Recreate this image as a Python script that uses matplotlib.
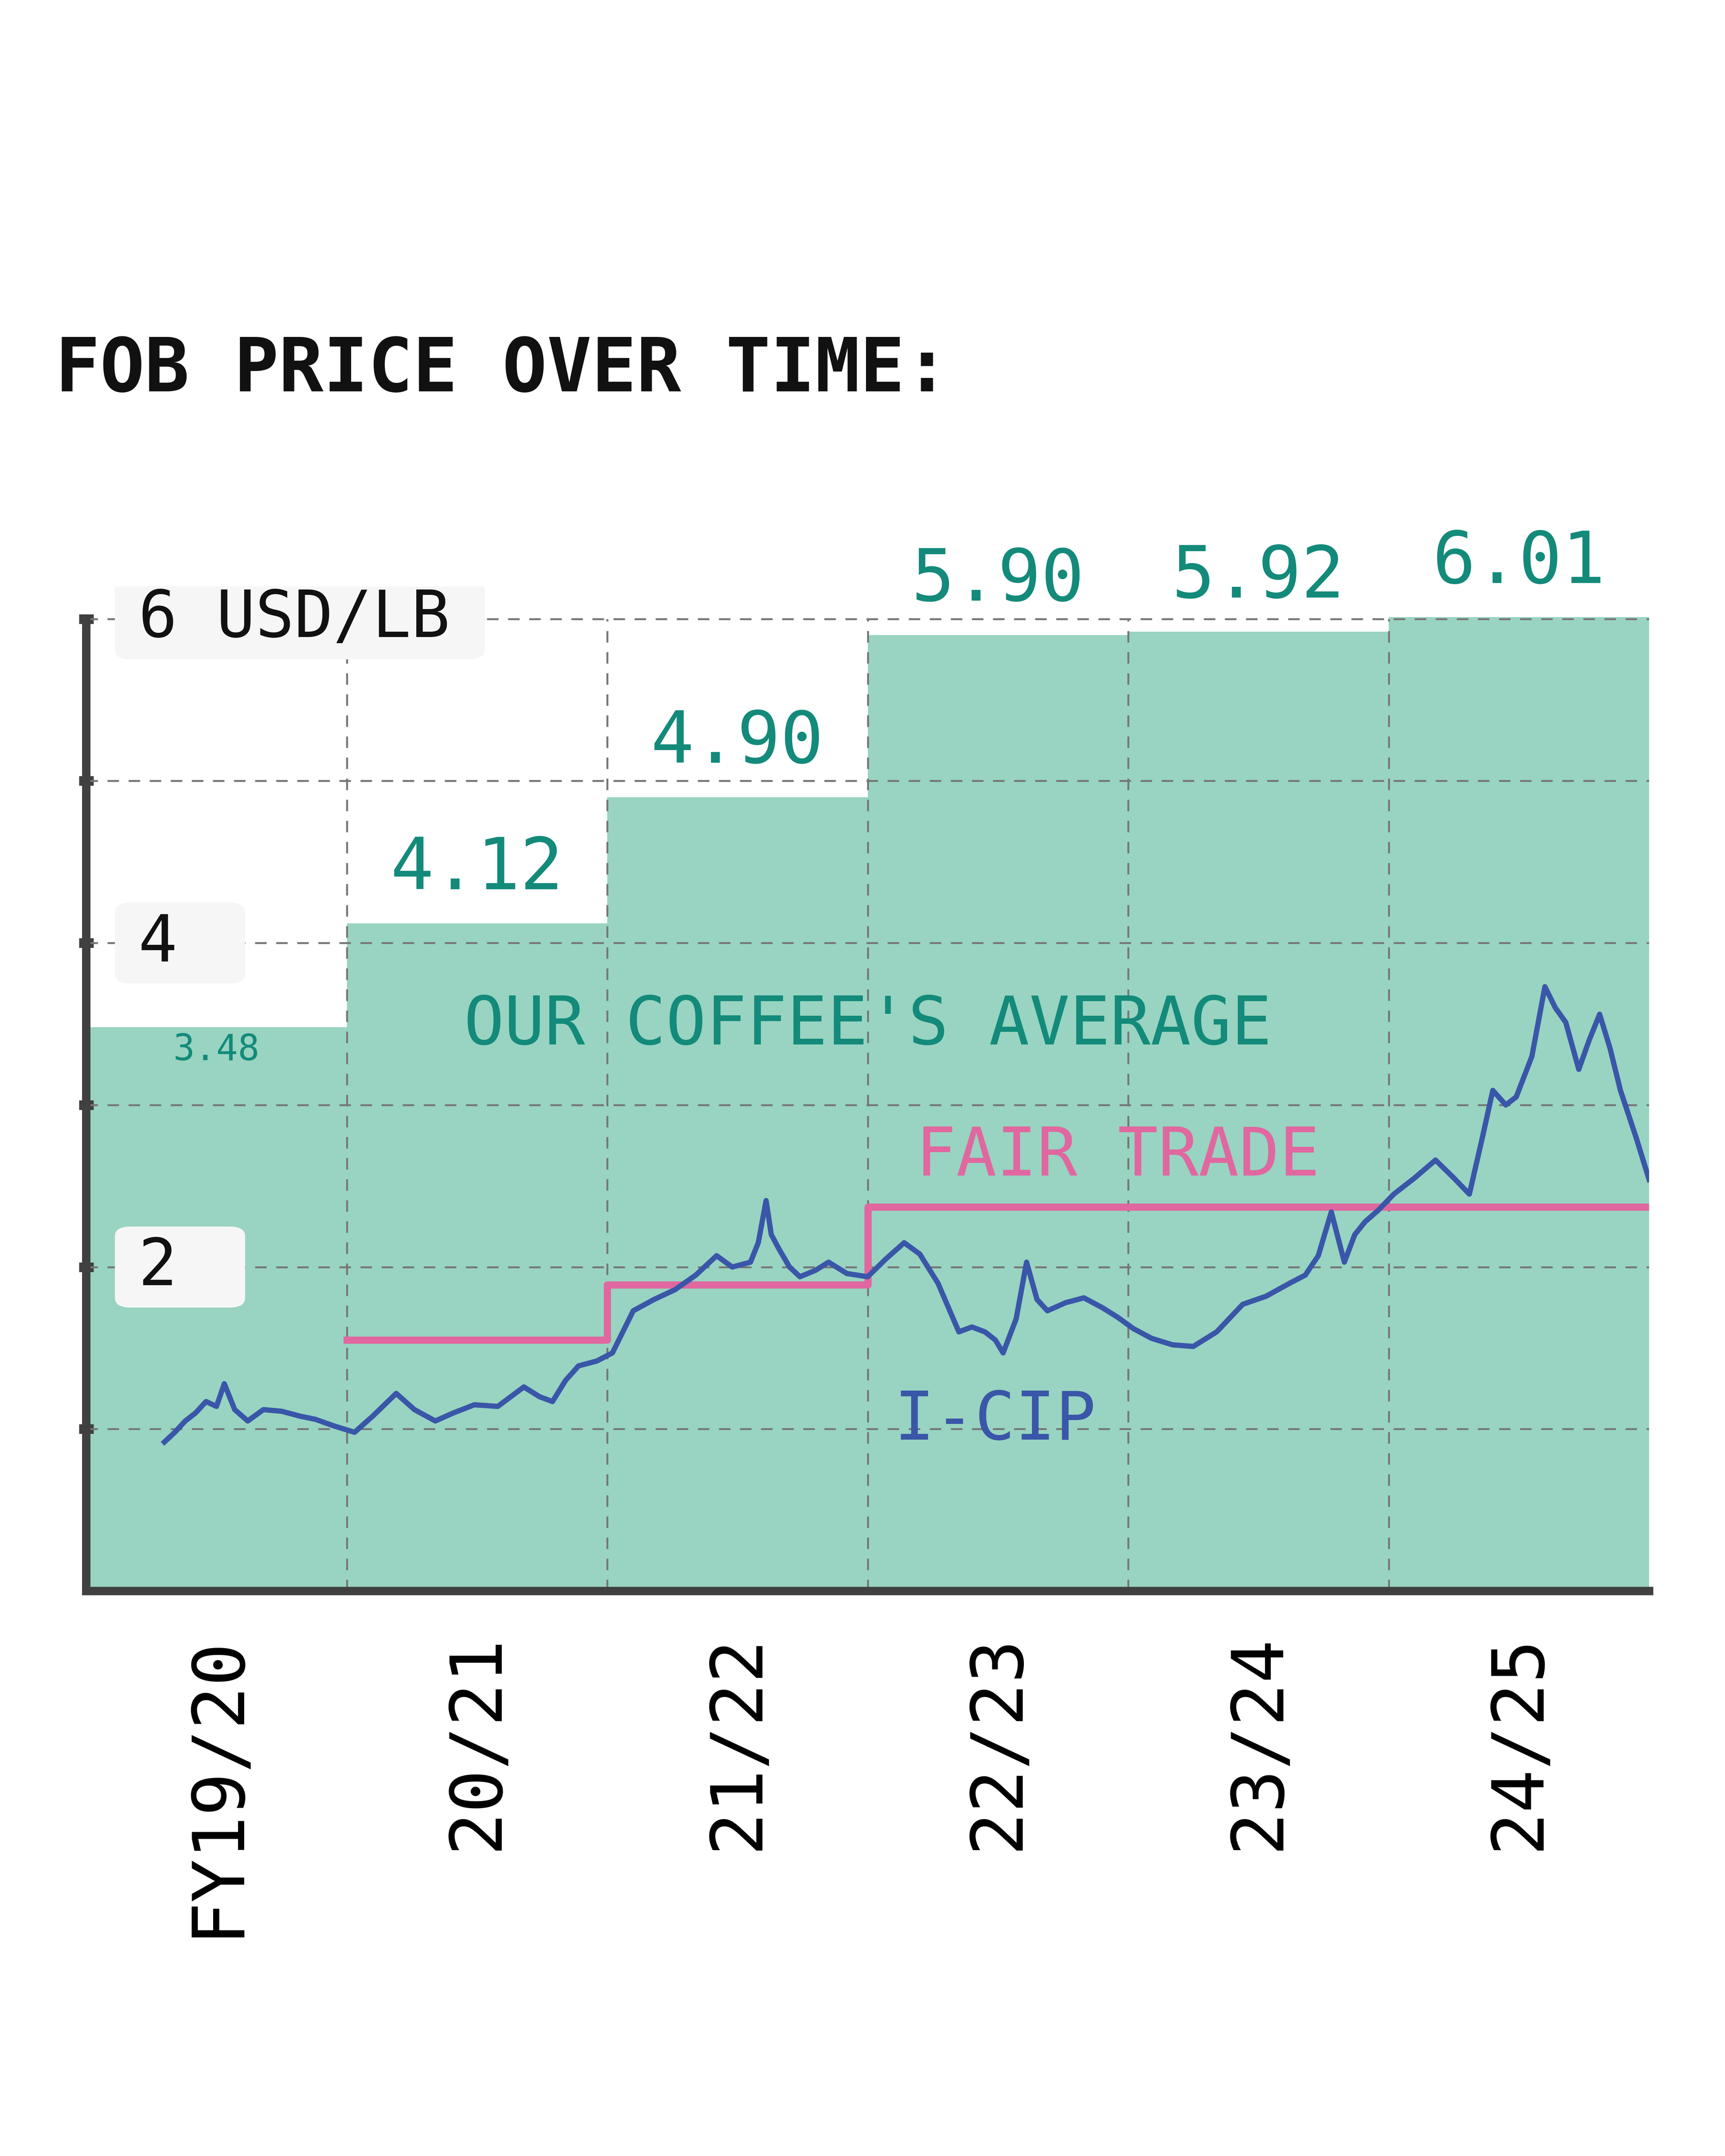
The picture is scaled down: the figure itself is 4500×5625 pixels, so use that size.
import matplotlib.pyplot as plt
from matplotlib.patches import FancyBboxPatch

plt.rcParams['font.family'] = ['DejaVu Sans Mono']

years = ["FY19/20", "20/21", "21/22", "22/23", "23/24", "24/25"]
avg_price = [3.48, 4.12, 4.90, 5.90, 5.92, 6.01]
avg_labels = ["3.48", "4.12", "4.90", "5.90", "5.92", "6.01"]

fair_x = [1, 2, 2, 3, 3, 6]
fair_y = [1.55, 1.55, 1.89, 1.89, 2.37, 2.37]

icip_x = [0.30, 0.34, 0.38, 0.42, 0.46, 0.50, 0.53, 0.57, 0.62, 0.68, 0.75, 0.82, 0.88,
          0.95, 1.03, 1.10, 1.19, 1.26, 1.34, 1.41, 1.49, 1.58, 1.68, 1.74, 1.79, 1.84,
          1.89, 1.96, 2.02, 2.06, 2.10, 2.18, 2.26, 2.34, 2.42, 2.48, 2.55, 2.58, 2.61,
          2.63, 2.66, 2.70, 2.74, 2.80, 2.85, 2.92, 3.00, 3.07, 3.14, 3.20, 3.27, 3.31,
          3.35, 3.40, 3.45, 3.49, 3.52, 3.57, 3.61, 3.65, 3.69, 3.76, 3.83, 3.90, 3.96,
          4.02, 4.09, 4.17, 4.25, 4.34, 4.44, 4.53, 4.62, 4.68, 4.73, 4.78, 4.83, 4.87,
          4.91, 4.96, 5.02, 5.10, 5.18, 5.25, 5.31, 5.36, 5.40, 5.45, 5.49, 5.55, 5.60,
          5.64, 5.68, 5.73, 5.77, 5.81, 5.85, 5.89, 5.95, 6.00]
icip_y = [0.92, 0.98, 1.05, 1.10, 1.17, 1.14, 1.28, 1.12, 1.05, 1.12, 1.11, 1.08, 1.06,
          1.02, 0.98, 1.08, 1.22, 1.12, 1.05, 1.10, 1.15, 1.14, 1.26, 1.20, 1.17, 1.30,
          1.39, 1.42, 1.47, 1.60, 1.73, 1.80, 1.86, 1.95, 2.07, 2.00, 2.03, 2.15, 2.41,
          2.20, 2.11, 2.00, 1.94, 1.98, 2.03, 1.96, 1.94, 2.05, 2.15, 2.08, 1.90, 1.75,
          1.60, 1.63, 1.60, 1.55, 1.47, 1.68, 2.03, 1.80, 1.73, 1.78, 1.81, 1.75, 1.69,
          1.62, 1.56, 1.52, 1.51, 1.60, 1.77, 1.82, 1.90, 1.95, 2.07, 2.34, 2.03, 2.20,
          2.28, 2.35, 2.45, 2.55, 2.66, 2.55, 2.45, 2.80, 3.09, 3.00, 3.05, 3.30, 3.73,
          3.60, 3.51, 3.22, 3.40, 3.56, 3.35, 3.09, 2.80, 2.54]

GREEN = "#98d4c1"
TEAL = "#138a7a"
PINK = "#e0679f"
BLUE = "#3a56a8"
DARK = "#404040"

fig = plt.figure(figsize=(10, 12.5), dpi=450)
ax = fig.add_axes([0.050, 0.262, 0.906, 0.466])
ax.set_xlim(0, 6)
ax.set_ylim(0, 6.2)

xs = range(len(years))
ax.bar([x + 0.5 for x in xs], avg_price, width=1.0, color=GREEN, zorder=1)

for v in range(1, 7):
    ax.axhline(v, color="#777777", lw=0.8, ls=(0, (6, 5)), zorder=2)
for v in range(1, 6):
    ax.axvline(v, color="#777777", lw=0.8, ls=(0, (6, 5)), ymax=6 / 6.2, zorder=2)

ax.plot(fair_x, fair_y, color=PINK, lw=3, zorder=3)
ax.plot(icip_x, icip_y, color=BLUE, lw=2.2, zorder=4)

for i in range(1, 6):
    ax.text(i + 0.5, avg_price[i] + 0.12, avg_labels[i], ha="center", va="bottom",
            color=TEAL, fontsize=30)
ax.text(0.5, 3.45, avg_labels[0], ha="center", va="top", color=TEAL, fontsize=15)

ax.text(3.0, 3.49, "OUR COFFEE'S AVERAGE", ha="center", va="center", color=TEAL, fontsize=28)
ax.text(3.96, 2.68, "FAIR TRADE", ha="center", va="center", color=PINK, fontsize=28)
ax.text(3.49, 1.05, "I-CIP", ha="center", va="center", color=BLUE, fontsize=28)

# y tick boxes
for yv, lab, w in [(6, "6 USD/LB", 1.42), (4, "4", 0.5), (2, "2", 0.5)]:
    box = FancyBboxPatch((0.11, yv - 0.25), w, 0.5, boxstyle="round,pad=0,rounding_size=0.06",
                         fc="#f6f6f6", ec="none", zorder=5, mutation_aspect=1)
    ax.add_patch(box)
    ax.text(0.2, yv, lab, ha="left", va="center", fontsize=27, color="#111111", zorder=6)

ax.set_yticks(range(1, 7))
ax.set_yticklabels([])
ax.tick_params(axis="y", length=6, width=4, color=DARK, direction="inout")
ax.set_xticks([x + 0.5 for x in xs])
ax.set_xticklabels(years, rotation=90, fontsize=30, va="top")
ax.tick_params(axis="x", length=0, pad=18)

for s in ["top", "right"]:
    ax.spines[s].set_visible(False)
for s in ["left", "bottom"]:
    ax.spines[s].set_color(DARK)
    ax.spines[s].set_linewidth(3.5)
ax.spines["left"].set_bounds(0, 6)

fig.text(0.032, 0.828, "FOB PRICE OVER TIME:", fontsize=31, fontweight="bold",
         ha="left", va="center", color="#111111")

fig.savefig("out.png", dpi=450, facecolor="white")
